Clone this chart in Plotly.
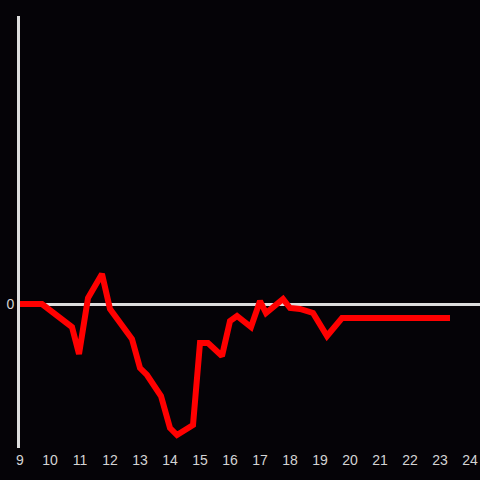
import plotly.graph_objects as go

hours = [9.0, 9.733, 10.733, 10.967, 11.267, 11.733, 12.0, 12.733, 13.0, 13.233,
         13.7, 14.0, 14.233, 14.767, 15.0, 15.267, 15.733, 16.0, 16.233, 16.7,
         17.0, 17.2, 17.767, 18.0, 18.333, 18.767, 19.233, 19.733, 23.333]
values = [0, 0, -23, -50, 6, 30, -5, -35, -64, -71,
          -92, -124, -131, -121, -39, -39, -52, -17, -12, -23,
          3, -9, 5, -4, -5, -9, -32, -14, -14]
x_ticks = list(range(9, 25))

fig = go.Figure()
fig.add_trace(go.Scatter(x=hours, y=values, mode="lines",
                         line=dict(color="#ff0000", width=6), hoverinfo="skip"))

fig.update_layout(
    width=480, height=480,
    paper_bgcolor="#050307", plot_bgcolor="#050307",
    margin=dict(l=20, r=0, t=16, b=32),
    showlegend=False,
    font=dict(family="Liberation Sans, Arial, sans-serif", size=14, color="#d4d4d4"),
    xaxis=dict(range=[9, 24.333], tickvals=x_ticks, ticktext=[str(t) for t in x_ticks],
               showgrid=False, zeroline=False, showline=False, ticks="",
               ticklen=0, ticklabelstandoff=2),
    yaxis=dict(range=[-144, 288], tickvals=[0], ticktext=["0"], showgrid=False,
               zeroline=True, zerolinecolor="#dddddd", zerolinewidth=3,
               showline=True, linecolor="#dddddd", linewidth=3, ticks=""),
)

fig.write_html("out.html", config={"displayModeBar": False},
               post_script="document.body.style.margin='0';document.body.style.background='#050307';document.body.style.overflow='hidden';")
